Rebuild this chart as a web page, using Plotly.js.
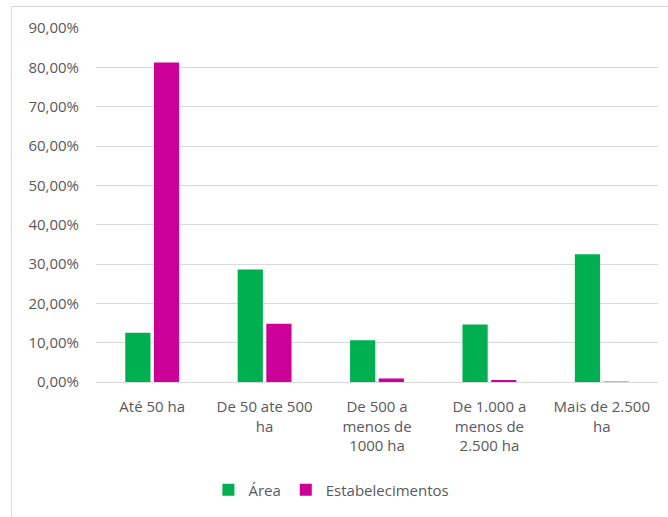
<!DOCTYPE html>
<html><head><meta charset="utf-8">
<script src="https://cdn.plot.ly/plotly-3.0.1.min.js"></script>
<style>
html,body{margin:0;padding:0;background:#fff;}
#wrap{position:relative;width:668px;height:517px;overflow:hidden;}
#frame{position:absolute;left:11px;top:6px;width:660px;height:520px;border:1px solid #D9D9D9;box-sizing:border-box;pointer-events:none;}
#chart{position:absolute;left:0;top:0;width:668px;height:517px;}
</style></head>
<body><div id="wrap"><div id="chart"></div><div id="frame"></div></div>
<script>
const categories = ["Até 50 ha", "De 50 ate 500<br>ha", "De 500 a<br>menos de<br>1000 ha", "De 1.000 a<br>menos de<br>2.500 ha", "Mais de 2.500<br>ha"];
const areaValues = [12.5, 28.6, 10.6, 14.6, 32.5];
const estabValues = [81.2, 14.8, 0.9, 0.5, 0.1];
const seriesNames = ["Área", "Estabelecimentos"];

const fontFam = "'Open Sans', 'Liberation Sans', sans-serif";
const data = [
  {type:'bar', name:seriesNames[0], x:categories, y:areaValues, marker:{color:'#00B050'}, hoverinfo:'none'},
  {type:'bar', name:seriesNames[1], x:categories, y:estabValues, marker:{color:'#CC0099'}, hoverinfo:'none'}
];
const layout = {
  width:668, height:517,
  margin:{l:96, r:10, t:28, b:133},
  paper_bgcolor:'rgba(0,0,0,0)', plot_bgcolor:'#fff',
  separators:',.',
  barmode:'group', bargap:0.49, bargroupgap:0.12,
  font:{family:fontFam, size:15, color:'#595959'},
  showlegend:true,
  legend:{orientation:'h', x:0.2, xanchor:'left', y:-0.305, yanchor:'middle', font:{size:15, color:'#595959'}, itemwidth:30, traceorder:'normal'},
  xaxis:{showgrid:false, showline:false, zeroline:false, ticks:'', tickfont:{size:15}, ticklabelstandoff:14, fixedrange:true},
  yaxis:{range:[0,90], dtick:10, tickformat:'.2f', ticksuffix:'%', showgrid:true, gridcolor:'#D9D9D9', gridwidth:1, zeroline:true, zerolinecolor:'#D9D9D9', zerolinewidth:1, showline:false, ticks:'', ticklabelstandoff:16, tickfont:{size:15}, fixedrange:true}
};
Plotly.newPlot('chart', data, layout, {displayModeBar:false, staticPlot:true});
</script></body></html>
